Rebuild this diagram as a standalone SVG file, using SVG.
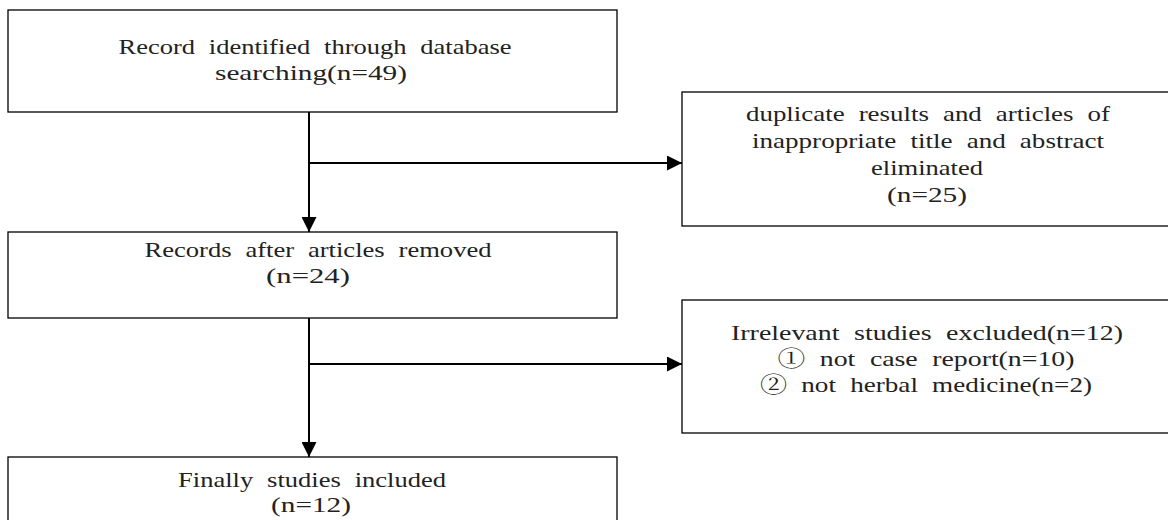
<svg xmlns="http://www.w3.org/2000/svg" width="1168" height="520" viewBox="0 0 1168 520">
<style>
.box{fill:#fff;stroke:#000;stroke-width:1.3}
.t{font-family:"Liberation Serif","Noto Serif CJK KR","Noto Sans CJK KR",serif;font-size:22px;fill:#222;text-anchor:middle;word-spacing:6px}
.c{stroke:#000;stroke-width:2;fill:none}
</style>
<defs>
<marker id="ah" markerWidth="15" markerHeight="15" refX="15" refY="7.5" orient="auto" markerUnits="userSpaceOnUse">
<path d="M0,0 L15,7.5 L0,15 Z" fill="#000"/>
</marker>
</defs>
<rect width="1168" height="520" fill="#fff"/>
<g id="connectors">
<path class="c" d="M309,112 V232" marker-end="url(#ah)"/>
<path class="c" d="M309,163 H682" marker-end="url(#ah)"/>
<path class="c" d="M309,318 V457" marker-end="url(#ah)"/>
<path class="c" d="M309,364 H682" marker-end="url(#ah)"/>
</g>
<g id="n1">
<rect class="box" x="8" y="10" width="609" height="102"/>
<text class="t" x="315" y="54" textLength="393" lengthAdjust="spacingAndGlyphs">Record identified through database</text>
<text class="t" x="311" y="80" textLength="192" lengthAdjust="spacingAndGlyphs">searching(n=49)</text>
</g>
<g id="n2">
<rect class="box" x="682" y="92" width="500" height="134"/>
<text class="t" x="928" y="121" textLength="364" lengthAdjust="spacingAndGlyphs">duplicate results and articles of</text>
<text class="t" x="928" y="148" textLength="352" lengthAdjust="spacingAndGlyphs">inappropriate title and abstract</text>
<text class="t" x="927" y="175" textLength="112" lengthAdjust="spacingAndGlyphs">eliminated</text>
<text class="t" x="927" y="202" textLength="80" lengthAdjust="spacingAndGlyphs">(n=25)</text>
</g>
<g id="n3">
<rect class="box" x="8" y="232" width="609" height="86"/>
<text class="t" x="318" y="257" textLength="347" lengthAdjust="spacingAndGlyphs">Records after articles removed</text>
<text class="t" x="308" y="283" textLength="84" lengthAdjust="spacingAndGlyphs">(n=24)</text>
</g>
<g id="n4">
<rect class="box" x="682" y="300" width="500" height="133"/>
<text class="t" x="927" y="340" textLength="392" lengthAdjust="spacingAndGlyphs">Irrelevant studies excluded(n=12)</text>
<text class="t" x="926" y="366" textLength="297" lengthAdjust="spacingAndGlyphs">① not case report(n=10)</text>
<text class="t" x="926" y="392" textLength="332" lengthAdjust="spacingAndGlyphs">② not herbal medicine(n=2)</text>
</g>
<g id="n5">
<rect class="box" x="8" y="457" width="609" height="80"/>
<text class="t" x="312" y="487" textLength="268" lengthAdjust="spacingAndGlyphs">Finally studies included</text>
<text class="t" x="311" y="512" textLength="80" lengthAdjust="spacingAndGlyphs">(n=12)</text>
</g>
</svg>
